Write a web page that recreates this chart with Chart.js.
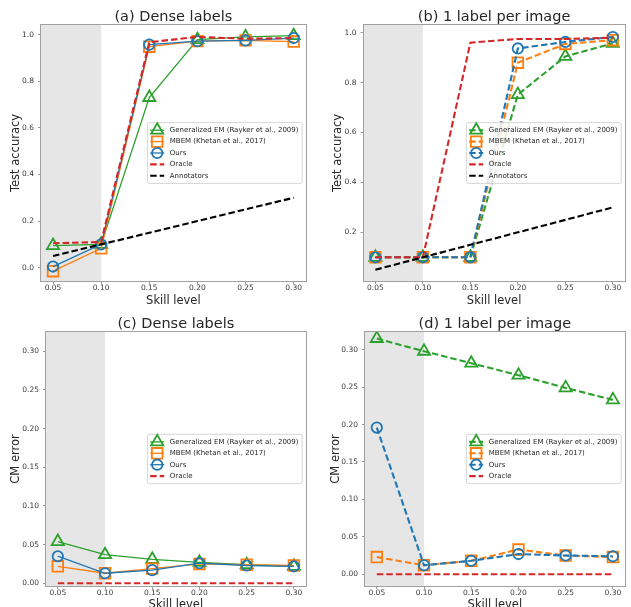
<!DOCTYPE html>
<html>
<head>
<meta charset="utf-8">
<title>Skill level</title>
<script src="https://cdn.jsdelivr.net/npm/chart.js@4.4.1/dist/chart.umd.min.js"></script>
<style>
  html,body{margin:0;padding:0;background:#fff}
  body{width:631px;height:607px;overflow:hidden;position:relative}
  canvas{position:absolute}
</style>
</head>
<body>
<canvas id="chA" width="315" height="306" style="left:0;top:0"></canvas>
<canvas id="chB" width="316" height="306" style="left:318px;top:0"></canvas>
<canvas id="chC" width="315" height="304" style="left:0;top:306px"></canvas>
<canvas id="chD" width="316" height="304" style="left:318px;top:306px"></canvas>
<script>
// --------- DATA ----------
const skillLevels = [0.05, 0.10, 0.15, 0.20, 0.25, 0.30];
const hardRegionEnd = 0.10;   // shaded band ends here
const annotatorAcc = [0.05, 0.10, 0.15, 0.20, 0.25, 0.30];

// (a) test accuracy, dense labels
const denseAccGEM    = [0.095, 0.10, 0.73, 0.978, 0.99, 0.995];
const denseAccMBEM   = [-0.015, 0.083, 0.948, 0.972, 0.975, 0.97];
const denseAccOurs   = [0.005, 0.10, 0.957, 0.972, 0.975, 0.985];
const denseAccOracle = [0.105, 0.11, 0.967, 0.99, 0.982, 0.985];

// (b) test accuracy, 1 label per image
const singleAccGEM    = [0.10, 0.10, 0.10, 0.752, 0.905, 0.957];
const singleAccMBEM   = [0.10, 0.10, 0.10, 0.88, 0.955, 0.97];
const singleAccOurs   = [0.10, 0.10, 0.10, 0.937, 0.963, 0.983];
const singleAccOracle = [0.10, 0.10, 0.96, 0.975, 0.975, 0.98];

// (c) CM error, dense labels
const denseCmGEM    = [0.054, 0.037, 0.031, 0.027, 0.024, 0.022];
const denseCmMBEM   = [0.022, 0.013, 0.019, 0.025, 0.024, 0.023];
const denseCmOurs   = [0.035, 0.013, 0.017, 0.026, 0.023, 0.022];
const denseCmOracle = [0, 0, 0, 0, 0, 0];

// (d) CM error, 1 label per image
const singleCmGEM    = [0.315, 0.298, 0.282, 0.266, 0.249, 0.233];
const singleCmMBEM   = [0.023, 0.012, 0.018, 0.033, 0.025, 0.023];
const singleCmOurs   = [0.196, 0.012, 0.018, 0.027, 0.025, 0.024];
const singleCmOracle = [0, 0, 0, 0, 0, 0];

const accTicksDense  = [0.0, 0.2, 0.4, 0.6, 0.8, 1.0];
const accTicksSingle = [0.2, 0.4, 0.6, 0.8, 1.0];
const cmTicks        = [0.00, 0.05, 0.10, 0.15, 0.20, 0.25, 0.30];

const seriesNames = ['Generalized EM (Rayker et al., 2009)', 'MBEM (Khetan et al., 2017)', 'Ours', 'Oracle', 'Annotators'];
const panelTitles = ['(a) Dense labels', '(b) 1 label per image', '(c) Dense labels', '(d) 1 label per image'];

// --------- STYLE ----------
const FONT = 'DejaVu Sans';
const COLORS = {gem:'#2ca02c', mbem:'#ff7f0e', ours:'#1f77b4', oracle:'#d62728', annot:'#000000'};
const DASH = [6.5, 3];
const X_LIM = [0.0375, 0.3125];

// --------- HELPERS ----------
function mkSeries(label, values, color, marker, radius, lw, dashed){
  return {
    label,
    data: skillLevels.map((s,i)=>({x:s, y:values[i]})),
    borderColor: color, backgroundColor: color, borderWidth: lw,
    borderDash: dashed ? DASH : [],
    pointStyle: marker || 'circle',
    pointRadius: marker ? radius : 0,
    pointHoverRadius: marker ? radius : 0,
    pointBorderWidth: 1.8,
    pointBorderColor: color,
    pointBackgroundColor: 'rgba(0,0,0,0)',
    tension: 0, fill: false
  };
}

function methodSets(gem, mbem, ours, oracle, dashed, withAnnot){
  const lw = dashed ? 2.1 : 1.3;
  const list = [
    mkSeries(seriesNames[0], gem,    COLORS.gem,    'triangle', 7,   lw, dashed),
    mkSeries(seriesNames[1], mbem,   COLORS.mbem,   'rect',     7.5, lw, dashed),
    mkSeries(seriesNames[2], ours,   COLORS.ours,   'circle',   5.2, lw, dashed),
    mkSeries(seriesNames[3], oracle, COLORS.oracle, null,       0,   2.1, true),
  ];
  if (withAnnot) list.push(mkSeries(seriesNames[4], annotatorAcc, COLORS.annot, null, 0, 2.1, true));
  list.forEach((d,i)=>{ d.order = list.length - i; });   // later series on top
  return list;
}

function drawMarker(ctx, style, r, x, y, color, lw){
  ctx.save();
  ctx.strokeStyle = color; ctx.lineWidth = lw; ctx.setLineDash([]);
  ctx.beginPath();
  if (style === 'triangle'){
    for (let k=0;k<3;k++){
      const a = k*2*Math.PI/3;
      const px = x + Math.sin(a)*r, py = y - Math.cos(a)*r;
      k ? ctx.lineTo(px,py) : ctx.moveTo(px,py);
    }
    ctx.closePath();
  } else if (style === 'rect'){
    const h = r*Math.SQRT1_2;
    ctx.rect(x-h, y-h, 2*h, 2*h);
  } else {
    ctx.arc(x, y, r, 0, Math.PI*2);
  }
  ctx.stroke();
  ctx.restore();
}

function drawLegend(chart, o){
  const {ctx, chartArea:a} = chart;
  const sets = chart.data.datasets;
  ctx.save();
  ctx.font = `7px ${FONT}`;
  const textW = Math.max(...sets.map(d=>ctx.measureText(d.label).width));
  const rowH = 11.4, padL = 2.8, handle = 14, gap = 5.6, padR = 3.7, padV = 7.6;
  const w = padL + handle + gap + textW + padR;
  const h = padV*2 + rowH*(sets.length-1);
  const x0 = a.right - 3.5 - w;
  const y0 = (a.top + a.bottom)/2 - h/2;
  ctx.fillStyle = 'rgba(255,255,255,0.85)';
  ctx.strokeStyle = '#cccccc'; ctx.lineWidth = 0.8;
  ctx.beginPath();
  ctx.roundRect(x0, y0, w, h, 2);
  ctx.fill(); ctx.stroke();
  sets.forEach((d,i)=>{
    const cy = y0 + padV + i*rowH;
    ctx.save();
    ctx.strokeStyle = d.borderColor; ctx.lineWidth = d.borderWidth; ctx.setLineDash(d.borderDash);
    ctx.beginPath(); ctx.moveTo(x0+padL, cy); ctx.lineTo(x0+padL+handle, cy); ctx.stroke();
    ctx.restore();
    if (d.pointRadius) drawMarker(ctx, d.pointStyle, d.pointRadius, x0+padL+handle/2, cy, d.pointBorderColor, d.pointBorderWidth);
    ctx.fillStyle = '#262626'; ctx.textAlign = 'left'; ctx.textBaseline = 'middle';
    ctx.fillText(d.label, x0+padL+handle+gap, cy);
  });
  ctx.restore();
}

const decor = {
  id:'decor',
  beforeDatasetsDraw(chart, args, o){
    const {ctx, chartArea:a} = chart;
    const xe = chart.scales.x.getPixelForValue(o.shadeUntil);
    ctx.save();
    ctx.fillStyle = '#e6e6e6';
    ctx.fillRect(a.left, a.top, xe - a.left, a.bottom - a.top);
    ctx.restore();
  },
  afterDatasetsDraw(chart, args, o){
    const {ctx, chartArea:a} = chart;
    ctx.save();
    ctx.strokeStyle = '#a0a0a0'; ctx.lineWidth = 1;
    ctx.strokeRect(Math.round(a.left)-0.5, Math.round(a.top)-0.5, Math.round(a.right-a.left)+1, Math.round(a.bottom-a.top)+1);
    ctx.fillStyle = '#262626';
    ctx.font = `14.5px ${FONT}`; ctx.textAlign = 'center'; ctx.textBaseline = 'middle';
    ctx.fillText(o.title, (a.left+a.right)/2, a.top - o.titleGap);
    ctx.restore();
    drawLegend(chart, o);
  }
};

function buildPanel(id, datasets, title, yTitle, yLim, yTicks, yDigits, lay){
  new Chart(document.getElementById(id), {
    type:'line',
    data:{datasets},
    plugins:[decor],
    options:{
      responsive:false, animation:false, devicePixelRatio:1,
      layout:{padding:{left:0, top:lay.top, right:lay.right, bottom:0}},
      plugins:{
        legend:{display:false}, tooltip:{enabled:false}, title:{display:false},
        decor:{title, titleGap:7.8, shadeUntil:hardRegionEnd}
      },
      scales:{
        x:{
          type:'linear', min:X_LIM[0], max:X_LIM[1],
          afterBuildTicks: s => { s.ticks = skillLevels.map(v=>({value:v})); },
          afterFit: s => { s.height = lay.xAxisH; },
          ticks:{callback:v=>Number(v).toFixed(2), font:{family:FONT, size:7.5}, color:'#3a3a3a', padding:0, maxRotation:0, autoSkip:false},
          grid:{drawOnChartArea:false, drawTicks:true, tickLength:3, tickColor:'#999'},
          border:{display:false},
          title:{display:true, text:'Skill level', font:{family:FONT, size:11.5}, color:'#262626', padding:{top:0, bottom:-2}}
        },
        y:{
          type:'linear', min:yLim[0], max:yLim[1],
          afterBuildTicks: s => { s.ticks = yTicks.map(v=>({value:v})); },
          afterFit: s => { s.width = lay.yAxisW; },
          ticks:{callback:v=>Number(v).toFixed(yDigits), font:{family:FONT, size:7.5}, color:'#3a3a3a', padding:4, autoSkip:false},
          grid:{drawOnChartArea:false, drawTicks:true, tickLength:3, tickColor:'#999'},
          border:{display:false},
          title:{display:true, text:yTitle, font:{family:FONT, size:11.5}, color:'#262626', padding:{top:lay.yTitlePad, bottom:0}}
        }
      }
    }
  });
}

// --------- INIT ----------
buildPanel('chA', methodSets(denseAccGEM, denseAccMBEM, denseAccOurs, denseAccOracle, false, true),
  panelTitles[0], 'Test accuracy', [-0.057, 1.041], accTicksDense, 1,
  {yAxisW:41, top:25, xAxisH:25, right:6, yTitlePad:9.1});
buildPanel('chB', methodSets(singleAccGEM, singleAccMBEM, singleAccOurs, singleAccOracle, true, true),
  panelTitles[1], 'Test accuracy', [0.005, 1.031], accTicksSingle, 1,
  {yAxisW:45.5, top:25, xAxisH:25, right:2.7, yTitlePad:13.4});
buildPanel('chC', methodSets(denseCmGEM, denseCmMBEM, denseCmOurs, denseCmOracle, false, false),
  panelTitles[2], 'CM error', [-0.0035, 0.325], cmTicks, 2,
  {yAxisW:46, top:26, xAxisH:24, right:2, yTitlePad:9.1});
buildPanel('chD', methodSets(singleCmGEM, singleCmMBEM, singleCmOurs, singleCmOracle, true, false),
  panelTitles[3], 'CM error', [-0.0157, 0.3237], cmTicks, 2,
  {yAxisW:47, top:26, xAxisH:24, right:2, yTitlePad:11.1});
</script>
</body>
</html>
